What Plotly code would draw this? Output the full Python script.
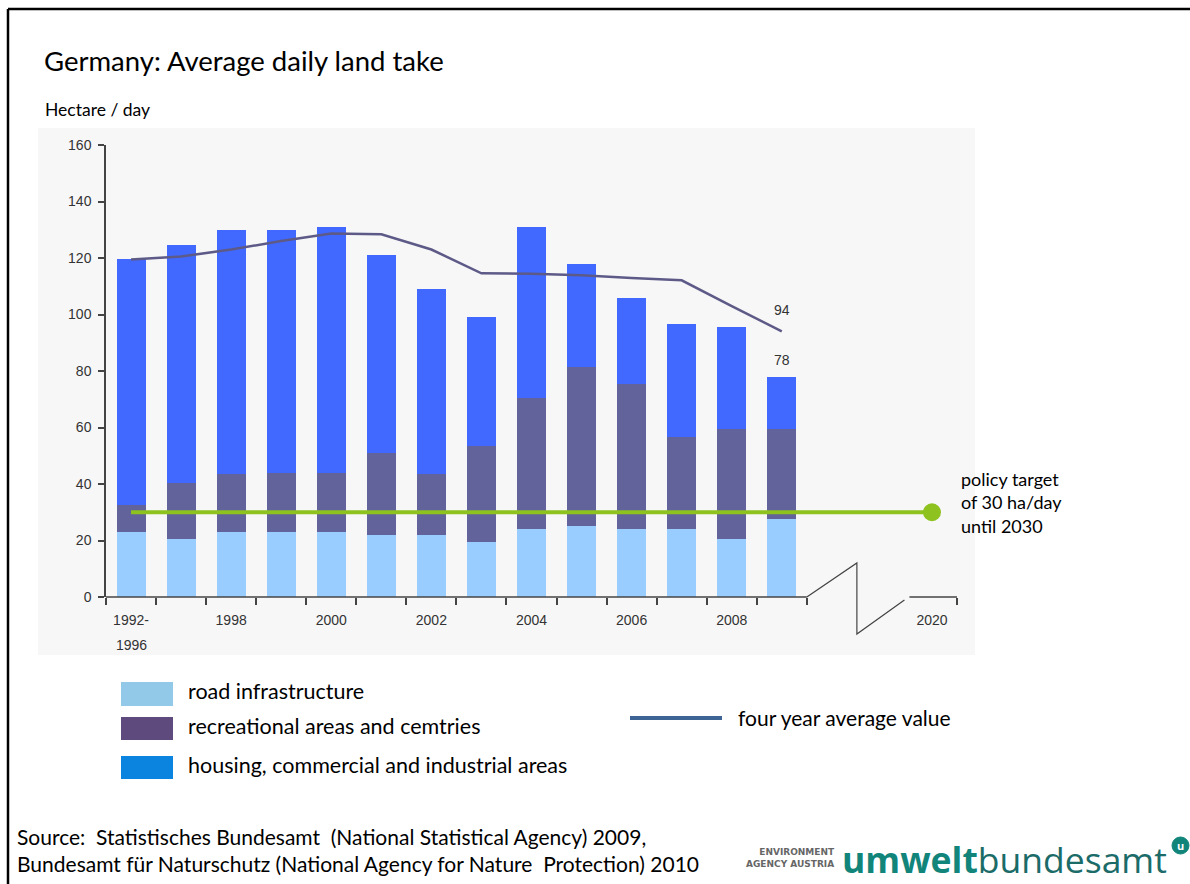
import plotly.graph_objects as go

# bar categories (periods) and the stacked land-take components, hectare/day
periods = ['1992-1996', '1997', '1998', '1999', '2000', '2001', '2002',
           '2003', '2004', '2005', '2006', '2007', '2008', '2009']
road = [23, 20.5, 23, 23, 23, 22, 22, 19.5, 24, 25, 24, 24, 20.5, 27.5]
recreation = [9.5, 20, 20.5, 21, 21, 29, 21.5, 34, 46.5, 56.5, 51.5, 32.5, 39, 32]
housing = [87, 84, 86.5, 86, 87, 70, 65.5, 45.5, 60.5, 36.5, 30.5, 40, 36, 18.5]
four_year_avg = [119.5, 120.5, 123, 126, 128.7, 128.4, 123, 114.6, 114.4,
                 113.9, 112.9, 112.1, 103, 94]

target_value = 30
target_year = '2020'
label_periods = ['1992-1996', '1998', '2000', '2002', '2004', '2006', '2008']
tick_text = ['1992-', '1998', '2000', '2002', '2004', '2006', '2008', '2020']

W, H = 1190, 884
L, R, T, B = 106, 233, 145, 287
FONT = 'Lato, "Open Sans", sans-serif'
AXFONT = '"Liberation Sans", Arial, sans-serif'

x = list(range(len(periods)))
target_pos = len(periods) + 2
xmin, xmax = -0.5, target_pos + 0.5


def px(v):
    return (v - L) / (W - L - R)


def py(v):
    return (H - B - v) / (H - T - B)


def dx(v):
    return (v - xmin) / (xmax - xmin)


fig = go.Figure()
fig.add_trace(go.Bar(x=x, y=road, name='road infrastructure', marker=dict(color='#99ccff', line=dict(width=0))))
fig.add_trace(go.Bar(x=x, y=recreation, name='recreational areas and cemtries', marker=dict(color='#62639a', line=dict(width=0))))
fig.add_trace(go.Bar(x=x, y=housing, name='housing, commercial and industrial areas', marker=dict(color='#4169ff', line=dict(width=0))))
fig.add_trace(go.Scatter(x=x, y=four_year_avg, mode='lines', name='four year average value',
                         line=dict(color='#5d5a88', width=2.5)))
fig.add_trace(go.Scatter(x=[0, target_pos], y=[target_value, target_value], mode='lines',
                         line=dict(color='#8dc21f', width=4), name='policy target'))
fig.add_trace(go.Scatter(x=[target_pos], y=[target_value], mode='markers',
                         marker=dict(size=18, color='#8dc21f', opacity=1, line=dict(width=0)),
                         name=target_year))

totals = [a + b + c for a, b, c in zip(road, recreation, housing)]
fig.add_annotation(x=x[-1], y=four_year_avg[-1], text=f'{four_year_avg[-1]:.0f}', showarrow=False,
                   yshift=21, font=dict(family=AXFONT, size=14, color='#333'))
fig.add_annotation(x=x[-1], y=totals[-1], text=f'{totals[-1]:.0f}', showarrow=False,
                   yshift=17, font=dict(family=AXFONT, size=14, color='#333'))
fig.add_annotation(x=0, y=0, text='1996', showarrow=False, yshift=-48,
                   font=dict(family=AXFONT, size=14, color='#333'))

shapes = []
# slide frame
shapes.append(dict(type='line', xref='paper', yref='paper', x0=px(8), x1=px(8), y0=py(9), y1=py(900),
                   line=dict(color='black', width=2.5)))
shapes.append(dict(type='line', xref='paper', yref='paper', x0=px(8), x1=px(1200), y0=py(9), y1=py(9),
                   line=dict(color='black', width=2.5)))
# chart background
shapes.append(dict(type='rect', xref='paper', yref='paper', x0=px(38), x1=px(975), y0=py(655), y1=py(128),
                   fillcolor='#f7f7f7', line=dict(width=0), layer='below'))
# x axis with break
axc = dict(color='#444', width=1.5)
shapes.append(dict(type='line', xref='paper', yref='paper', x0=dx(xmin), x1=dx(len(periods) - 0.5),
                   y0=0, y1=0, line=axc))
shapes.append(dict(type='path', xref='paper', yref='paper',
                   path=f'M {dx(len(periods) - 0.5)} 0 L {dx(len(periods) + 0.5)} {py(563)} '
                        f'L {dx(len(periods) + 0.5)} {py(634)} L {dx(len(periods) + 1.45)} {py(600)}',
                   line=dict(color='#444', width=1.2)))
shapes.append(dict(type='line', xref='paper', yref='paper', x0=dx(len(periods) + 1.55), x1=dx(xmax),
                   y0=0, y1=0, line=axc))

# legend
legend_items = [('road infrastructure', '#92c8e8', 682, 706),
                ('recreational areas and cemtries', '#5e4a7c', 717, 740),
                ('housing, commercial and industrial areas', '#0b84e0', 756, 779)]
annotations = []
for label, col, y0, y1 in legend_items:
    shapes.append(dict(type='rect', xref='paper', yref='paper', x0=px(121), x1=px(173),
                       y0=py(y1), y1=py(y0), fillcolor=col, line=dict(width=0)))
    annotations.append(dict(xref='paper', yref='paper', x=px(186), y=py((y0 + y1) / 2 - 3), text=label,
                            xanchor='left', yanchor='middle', showarrow=False,
                            font=dict(family=FONT, size=21.5, color='black')))
shapes.append(dict(type='line', xref='paper', yref='paper', x0=px(630), x1=px(722), y0=py(718), y1=py(718),
                   line=dict(color='#3e6496', width=4)))
annotations.append(dict(xref='paper', yref='paper', x=px(736), y=py(717), text='four year average value',
                        xanchor='left', yanchor='middle', showarrow=False,
                        font=dict(family=FONT, size=21, color='black')))

# texts
annotations.append(dict(xref='paper', yref='paper', x=px(42), y=py(60), text='Germany: Average daily land take',
                        xanchor='left', yanchor='middle', showarrow=False,
                        font=dict(family=FONT, size=27.5, color='black')))
annotations.append(dict(xref='paper', yref='paper', x=px(43), y=py(109), text='Hectare / day',
                        xanchor='left', yanchor='middle', showarrow=False,
                        font=dict(family=FONT, size=17.5, color='black')))
annotations.append(dict(xref='paper', yref='paper', x=px(959), y=py(502),
                        text='policy target<br>of 30 ha/day<br>until 2030',
                        xanchor='left', yanchor='middle', align='left', showarrow=False,
                        font=dict(family=FONT, size=18, color='black')))
annotations.append(dict(xref='paper', yref='paper', x=px(15), y=py(850),
                        text='Source:  Statistisches Bundesamt  (National Statistical Agency) 2009,<br>'
                             'Bundesamt für Naturschutz (National Agency for Nature  Protection) 2010',
                        xanchor='left', yanchor='middle', align='left', showarrow=False,
                        font=dict(family=FONT, size=21, color='black')))
# logo
annotations.append(dict(xref='paper', yref='paper', x=px(837), y=py(858),
                        text='<b>ENVIRONMENT</b><br><b>AGENCY AUSTRIA</b>', xanchor='right', yanchor='middle',
                        align='right', showarrow=False,
                        font=dict(family='"DejaVu Sans", sans-serif', size=9, color='#666')))
annotations.append(dict(xref='paper', yref='paper', x=px(840), y=py(859),
                        text="<b>umwelt</b><span style='color:#1b6b68'>bundesamt</span>",
                        xanchor='left', yanchor='middle', showarrow=False,
                        font=dict(family='"Open Sans", sans-serif', size=35.5, color='#12857a')))
shapes.append(dict(type='circle', xref='paper', yref='paper', x0=px(1172), x1=px(1189),
                   y0=py(854), y1=py(837), fillcolor='#12857a', line=dict(color='#12857a', width=1)))
annotations.append(dict(xref='paper', yref='paper', x=px(1180.5), y=py(845.5), text='<b>u</b>',
                        xanchor='center', yanchor='middle', showarrow=False,
                        font=dict(family='"Open Sans", sans-serif', size=11, color='white')))

fig.update_layout(
    barmode='stack',
    bargap=0.42,
    width=W, height=H,
    margin=dict(l=L, r=R, t=T, b=B),
    paper_bgcolor='white',
    plot_bgcolor='rgba(0,0,0,0)',
    showlegend=False,
    shapes=shapes,
    font=dict(family=AXFONT, size=14, color='#333'),
)
for a in annotations:
    fig.add_annotation(**a)

fig.update_xaxes(
    range=[xmin, xmax],
    tickmode='array',
    tickvals=[periods.index(p) for p in label_periods] + [target_pos],
    ticktext=tick_text,
    ticks='',
    ticklabelstandoff=13,
    showline=False, showgrid=False, zeroline=False,
    tickfont=dict(family=AXFONT, size=14, color='#333'),
    minor=dict(tickmode='array', tickvals=[i - 0.5 for i in range(len(periods) + 1)] + [xmax],
               ticks='outside', ticklen=7, tickwidth=1.5, tickcolor='#444', showgrid=False),
)
fig.update_yaxes(
    range=[0, 160],
    tickmode='array',
    tickvals=list(range(0, 161, 20)),
    ticks='outside', ticklen=6, tickwidth=1.5, tickcolor='#444',
    ticklabelstandoff=4,
    showline=True, linecolor='#444', linewidth=1.5,
    showgrid=False, zeroline=False,
    tickfont=dict(family=AXFONT, size=14, color='#333'),
)

fig.write_html('out.html', config={'displayModeBar': False},
               post_script="document.body.style.margin='0';")
